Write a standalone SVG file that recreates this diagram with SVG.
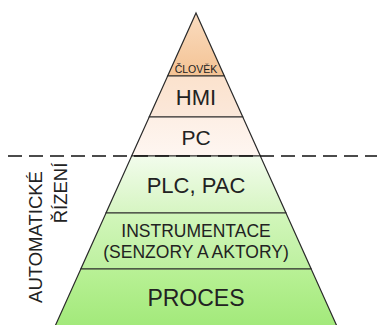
<svg xmlns="http://www.w3.org/2000/svg" width="377" height="325" viewBox="0 0 377 325">
<defs>
<linearGradient id="gC" x1="0" y1="0" x2="0" y2="1"><stop offset="0" stop-color="#fadcc0"/><stop offset="1" stop-color="#f4c394"/></linearGradient>
<linearGradient id="gH" x1="0" y1="0" x2="0" y2="1"><stop offset="0" stop-color="#fbe2cd"/><stop offset="1" stop-color="#fbe8da"/></linearGradient>
<linearGradient id="gP" x1="0" y1="0" x2="0" y2="1"><stop offset="0" stop-color="#fdefe5"/><stop offset="1" stop-color="#fef6f1"/></linearGradient>
<linearGradient id="gL" x1="0" y1="0" x2="0" y2="1"><stop offset="0" stop-color="#f2fcec"/><stop offset="1" stop-color="#d6f5c2"/></linearGradient>
<linearGradient id="gI" x1="0" y1="0" x2="0" y2="1"><stop offset="0" stop-color="#d2f6bb"/><stop offset="1" stop-color="#bdf09f"/></linearGradient>
<linearGradient id="gR" x1="0" y1="0" x2="0" y2="1"><stop offset="0" stop-color="#b9f196"/><stop offset="1" stop-color="#a2e97a"/></linearGradient>
</defs>
<style>
.layer{stroke:#2a2a2a;stroke-width:1.2;stroke-linejoin:miter}
.t{font-family:"Liberation Sans",Arial,sans-serif;fill:#222;text-anchor:middle}
</style>
<rect width="377" height="325" fill="#ffffff"/>
<g id="clovek">
<polygon class="layer" fill="url(#gC)" points="196,13 224.35,76 167.65,76"/>
<text class="t" x="196" y="73" font-size="10.5">ČLOVĚK</text>
</g>
<g id="hmi">
<polygon class="layer" fill="url(#gH)" points="167.65,76 224.35,76 242.8,117 149.2,117"/>
<text class="t" x="196" y="105" font-size="22">HMI</text>
</g>
<g id="pc">
<polygon class="layer" fill="url(#gP)" points="149.2,117 242.8,117 260.35,156 131.65,156"/>
<text class="t" x="196" y="145" font-size="21">PC</text>
</g>
<g id="plc">
<polygon class="layer" fill="url(#gL)" points="131.65,156 260.35,156 286,213 106,213"/>
<text class="t" x="196" y="193" font-size="22">PLC, PAC</text>
</g>
<g id="instrumentace">
<polygon class="layer" fill="url(#gI)" points="106,213 286,213 311.2,269 80.8,269"/>
<text class="t" x="196" y="237" font-size="17.5">INSTRUMENTACE</text>
<text class="t" x="196" y="258" font-size="17.5">(SENZORY A AKTORY)</text>
</g>
<g id="proces">
<polygon class="layer" fill="url(#gR)" points="80.8,269 311.2,269 337.3,327 54.7,327"/>
<text class="t" x="196" y="306" font-size="23">PROCES</text>
</g>
<g id="connectors">
<line x1="8" y1="156" x2="377" y2="156" stroke="#111" stroke-width="1.5" stroke-dasharray="14 7"/>
</g>
<g id="label">
<text class="t" transform="translate(42,237) rotate(-90)" font-size="18.5">AUTOMATICKÉ</text>
<text class="t" transform="translate(67,193) rotate(-90)" font-size="18.5">ŘÍZENÍ</text>
</g>
</svg>
